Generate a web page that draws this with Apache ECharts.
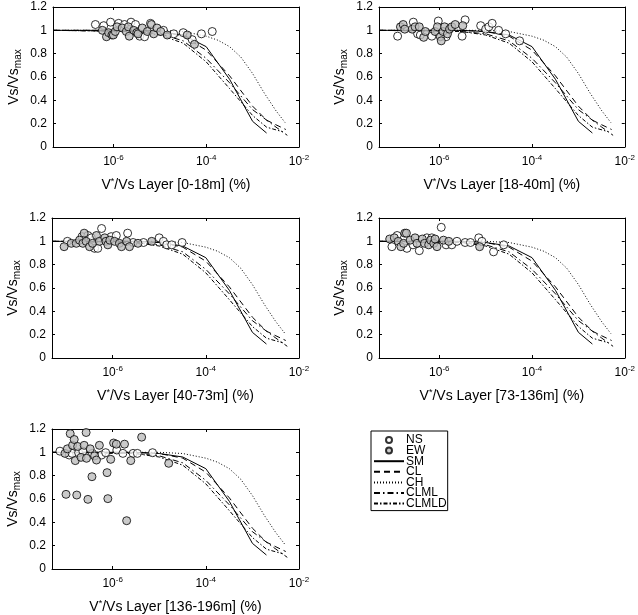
<!DOCTYPE html>
<html><head><meta charset="utf-8">
<script src="https://cdn.jsdelivr.net/npm/echarts@6/dist/echarts.min.js"></script>
<style>html,body{margin:0;padding:0;background:#fff}#c{width:638px;height:615px}</style>
</head><body><div id="c"></div>
<script>
// ---------- DATA ----------
const layerNames = ['[0-18m]', '[18-40m]', '[40-73m]', '[73-136m]', '[136-196m]'];
const xTickValues = [1e-6, 1e-4, 1e-2];

// Layer 0-18m
const ns_0_18 = [[4.1e-7,1.05],[6.2e-7,1.04],[8.7e-7,1.07],[1.3e-6,1.06],[1.74e-6,1.05],[2.4e-6,1.07],[3.0e-6,1.05],[3.7e-6,0.95],[4.7e-6,0.945],[6.3e-6,1.06],[1.2e-5,1.00],[2.0e-5,0.97],[3.2e-5,0.98],[5.0e-5,0.92],[7.9e-5,0.97],[1.35e-4,0.99]];
const ew_0_18 = [[5.8e-7,1.00],[7.1e-7,0.945],[7.9e-7,0.98],[9.3e-7,0.96],[1.0e-6,0.96],[1.1e-6,0.99],[1.2e-6,1.03],[1.55e-6,1.02],[1.9e-6,0.99],[2.1e-6,1.03],[2.2e-6,0.95],[2.75e-6,1.00],[3.2e-6,0.98],[3.4e-6,0.97],[4.2e-6,1.02],[5.4e-6,0.99],[6.6e-6,1.05],[7.4e-6,0.97],[8.7e-6,1.02],[1.05e-5,0.99],[1.45e-5,0.96],[3.9e-5,0.96],[5.6e-5,0.88]];
// Layer 18-40m
const ns_18_40 = [[1.26e-7,0.95],[2.75e-7,1.07],[3.4e-7,0.97],[3.9e-7,0.96],[6.9e-7,0.95],[9.5e-7,1.08],[1.4e-6,0.945],[3.1e-6,0.95],[3.6e-6,1.09],[7.8e-6,1.04],[1.0e-5,1.01],[1.17e-5,1.03],[1.38e-5,1.06],[1.9e-5,1.00],[2.7e-5,0.97],[5.4e-5,0.91]];
const ew_18_40 = [[1.45e-7,1.03],[1.66e-7,1.05],[1.8e-7,1.01],[2.6e-7,1.01],[3.0e-7,1.03],[3.7e-7,1.03],[4.6e-7,0.94],[5.0e-7,0.99],[8.1e-7,0.99],[9.1e-7,1.03],[1.05e-6,0.945],[1.1e-6,0.91],[1.2e-6,0.99],[1.3e-6,1.03],[1.5e-6,0.97],[1.66e-6,1.01],[1.86e-6,1.03],[2.2e-6,1.05],[3.2e-6,1.04]];
// Layer 40-73m
const ns_40_73 = [[1.07e-7,1.00],[2.2e-7,1.04],[2.95e-7,1.05],[3.5e-7,1.03],[4.1e-7,0.94],[4.8e-7,0.94],[5.8e-7,1.11],[9.3e-7,1.04],[1.2e-6,1.05],[2.1e-6,1.07],[2.75e-6,0.99],[4.6e-6,0.99],[1.0e-5,1.03],[1.23e-5,1.00],[1.45e-5,0.97],[1.86e-5,0.97],[3.1e-5,0.99]];
const ew_40_73 = [[9.1e-8,0.954],[1.3e-7,0.983],[1.66e-7,0.983],[1.95e-7,1.01],[2.3e-7,0.983],[2.45e-7,1.07],[2.7e-7,1.00],[3.2e-7,0.954],[3.7e-7,0.983],[4.5e-7,1.05],[5.2e-7,1.00],[6.8e-7,1.03],[7.2e-7,1.00],[7.9e-7,0.97],[8.7e-7,1.01],[1.1e-6,1.00],[1.4e-6,0.983],[1.55e-6,0.954],[2.0e-6,1.00],[2.3e-6,0.954],[3.5e-6,0.983],[6.9e-6,1.00]];
// Layer 73-136m
const ns_73_136 = [[9.5e-8,0.954],[1.23e-7,1.05],[2.0e-7,0.94],[2.7e-7,0.97],[3.7e-7,0.92],[5.4e-7,1.03],[6.9e-7,1.03],[1.1e-6,1.12],[1.4e-6,0.97],[1.86e-6,0.97],[2.4e-6,1.00],[3.6e-6,0.99],[4.7e-6,0.99],[7.1e-6,1.03],[8.3e-6,1.00],[1.48e-5,0.91],[2.45e-5,0.97]];
const ew_73_136 = [[8.5e-8,1.02],[1.07e-7,1.03],[1.3e-7,1.00],[1.48e-7,0.954],[1.7e-7,0.983],[1.8e-7,1.07],[1.95e-7,1.07],[2.35e-7,1.01],[3.0e-7,1.03],[3.3e-7,0.983],[4.3e-7,1.02],[4.8e-7,0.983],[5.9e-7,0.97],[6.5e-7,1.01],[7.6e-7,0.983],[8.1e-7,1.02],[8.9e-7,0.954],[1.23e-6,1.01],[1.6e-6,1.00],[7.4e-6,0.954]];
// Layer 136-196m
const ns_136_196 = [[7.4e-8,1.01],[1.17e-7,0.977],[1.35e-7,0.991],[1.86e-7,0.997],[2.3e-7,1.01],[3.7e-7,0.991],[5.8e-7,0.977],[7.1e-7,0.997],[1.23e-6,1.02],[1.66e-6,0.991],[2.75e-6,0.991],[3.4e-6,0.991],[7.2e-6,0.997]];
const ew_136_196 = [[9.5e-8,0.991],[1.0e-7,0.64],[1.07e-7,1.03],[1.23e-7,1.16],[1.38e-7,1.06],[1.5e-7,1.11],[1.58e-7,0.929],[1.7e-7,0.634],[1.78e-7,1.05],[2.1e-7,0.957],[2.45e-7,1.06],[2.7e-7,1.17],[2.75e-7,0.949],[2.95e-7,0.597],[3.3e-7,1.03],[3.6e-7,0.791],[4.1e-7,0.969],[4.5e-7,0.934],[5.2e-7,1.06],[7.6e-7,0.826],[7.9e-7,0.603],[9.1e-7,0.94],[1.05e-6,1.08],[1.2e-6,1.07],[1.8e-6,1.07],[2.0e-6,0.414],[2.45e-6,0.929],[4.2e-6,1.13],[1.6e-5,0.906]];

const nsData = [ns_0_18, ns_18_40, ns_40_73, ns_73_136, ns_136_196];
const ewData = [ew_0_18, ew_18_40, ew_40_73, ew_73_136, ew_136_196];

// Model curves (same in every panel)
const SM_x = [5e-8, 3e-6, 1e-5, 3.2e-5, 1e-4, 3.2e-4, 1e-3, 2e-3];
const SM_y = [1, 1, 0.99, 0.96, 0.86, 0.58, 0.22, 0.12];
const CL_x = [5e-8, 3e-6, 1e-5, 3.2e-5, 1e-4, 3.2e-4, 1e-3, 2e-3, 3.2e-3, 5.2e-3];
const CL_y = [1, 1, 0.99, 0.95, 0.83, 0.61, 0.35, 0.23, 0.19, 0.15];
const CH_x = [5e-8, 3e-6, 1e-5, 3.2e-5, 1e-4, 1.8e-4, 3.2e-4, 5.6e-4, 1e-3, 1.8e-3, 3.2e-3, 5e-3];
const CH_y = [1, 1, 1, 0.99, 0.95, 0.915, 0.86, 0.77, 0.63, 0.46, 0.31, 0.21];
const CLML_x = [5e-8, 3e-6, 1e-5, 3.2e-5, 1e-4, 3.2e-4, 1e-3, 3.2e-3, 5.6e-3];
const CLML_y = [1, 0.99, 0.97, 0.91, 0.76, 0.55, 0.32, 0.17, 0.10];
const CLMLD_x = [5e-8, 3e-6, 1e-5, 3.2e-5, 1e-4, 3.2e-4, 1e-3, 2e-3, 4.5e-3];
const CLMLD_y = [1, 0.99, 0.96, 0.89, 0.73, 0.50, 0.27, 0.17, 0.13];

// ---------- BUILD ----------
const FONT = 'Liberation Sans, Arial, sans-serif';
const grids = [
  {left: 53, top: 7, width: 246, height: 140},
  {left: 379, top: 7, width: 247, height: 140},
  {left: 52, top: 218, width: 247, height: 140},
  {left: 379, top: 218, width: 247, height: 140},
  {left: 52, top: 429, width: 247, height: 140}
];
const XMIN = 5e-8, XMAX = 1e-2;
const zip = (a, b) => a.map((v, i) => [v, b[i]]);
const curves = [
  {name: 'SM', x: SM_x, y: SM_y, type: 'solid'},
  {name: 'CL', x: CL_x, y: CL_y, type: [6, 4]},
  {name: 'CH', x: CH_x, y: CH_y, type: [1, 2]},
  {name: 'CLML', x: CLML_x, y: CLML_y, type: [6, 3, 1.5, 3]},
  {name: 'CLMLD', x: CLMLD_x, y: CLMLD_y, type: [4, 2, 1.5, 2]}
];

function xLabel(v) {
  const e = Math.round(Math.log10(v));
  return '{b|10}{s|' + e + '}';
}

const xAxes = [], yAxes = [], series = [];
grids.forEach((g, i) => {
  const common = {
    gridIndex: i, type: 'log', logBase: 10, min: XMIN, max: XMAX,
    axisLine: {show: true, onZero: false, lineStyle: {color: '#000', width: 1}},
    axisTick: {show: true, inside: true, length: 3, customValues: xTickValues, lineStyle: {color: '#000'}},
    splitLine: {show: false}, minorTick: {show: false}
  };
  xAxes.push(Object.assign({}, common, {
    position: 'bottom',
    axisLabel: {show: true, formatter: xLabel, margin: 7, customValues: xTickValues,
      rich: {b: {fontSize: 12, fontFamily: FONT, color: '#000'},
             s: {fontSize: 8, fontFamily: FONT, color: '#000', verticalAlign: 'bottom', padding: [0, 0, 7, 0]}}},
    name: 'V{sup|*}/Vs Layer ' + layerNames[i] + ' (%)',
    nameLocation: 'middle', nameGap: 30,
    nameTextStyle: {fontSize: 14, fontFamily: FONT, color: '#000',
      rich: {sup: {fontSize: 9, fontFamily: FONT, color: '#000', verticalAlign: 'bottom', padding: [0, 0, 7, 0]}}}
  }));
  xAxes.push(Object.assign({}, common, {position: 'top', axisLabel: {show: false, customValues: xTickValues}}));
  const yc = {
    gridIndex: i, type: 'value', min: 0, max: 1.2, interval: 0.2,
    axisLine: {show: true, onZero: false, lineStyle: {color: '#000', width: 1}},
    axisTick: {show: true, inside: true, length: 3, lineStyle: {color: '#000'}},
    splitLine: {show: false}
  };
  yAxes.push(Object.assign({}, yc, {
    position: 'left',
    axisLabel: {show: true, fontSize: 12, fontFamily: FONT, color: '#000', margin: 6},
    name: '{a|Vs/Vs}{sub|max}', nameLocation: 'middle', nameGap: 30, nameRotate: 90,
    nameTextStyle: {fontSize: 14, fontFamily: FONT, color: '#000',
      rich: {a: {fontSize: 14, fontFamily: FONT, color: '#000'},
             sub: {fontSize: 10, fontFamily: FONT, color: '#000', verticalAlign: 'top', padding: [7, 0, 0, 0]}}}
  }));
  yAxes.push(Object.assign({}, yc, {position: 'right', axisLabel: {show: false}}));

  curves.forEach(c => {
    series.push({
      name: c.name, type: 'line', xAxisIndex: 2 * i, yAxisIndex: 2 * i,
      data: zip(c.x, c.y), symbol: 'none', silent: true, animation: false,
      lineStyle: {color: '#000', width: 1, type: c.type}, itemStyle: {color: '#000', opacity: 0}, z: 2
    });
  });
  series.push({
    name: 'NS', type: 'scatter', xAxisIndex: 2 * i, yAxisIndex: 2 * i,
    data: nsData[i], symbol: 'circle', symbolSize: 8, animation: false,
    itemStyle: {color: '#ffffff', borderColor: '#000', borderWidth: 1}, z: 3
  });
  series.push({
    name: 'EW', type: 'scatter', xAxisIndex: 2 * i, yAxisIndex: 2 * i,
    data: ewData[i], symbol: 'circle', symbolSize: 8, animation: false,
    itemStyle: {color: '#bdbdbd', borderColor: '#000', borderWidth: 1}, z: 3
  });
});

const lineLegend = n => ({name: n, itemStyle: {opacity: 0}});
const chart = echarts.init(document.getElementById('c'), null, {renderer: 'canvas'});
chart.setOption({
  backgroundColor: '#fff',
  animation: false,
  grid: grids.map(g => Object.assign({containLabel: false}, g)),
  xAxis: xAxes,
  yAxis: yAxes,
  legend: {
    data: ['NS', 'EW', lineLegend('SM'), lineLegend('CL'), lineLegend('CH'), lineLegend('CLML'), lineLegend('CLMLD')],
    orient: 'vertical', left: 371, top: 431,
    itemWidth: 30, itemHeight: 6, itemGap: -1.4,
    padding: [3, 1, 1, 2],
    borderColor: '#000', borderWidth: 1,
    textStyle: {fontSize: 12, lineHeight: 11, fontFamily: FONT, color: '#000', padding: [0, 0, 0, -3]},
    selectedMode: false
  },
  series: series
});
</script></body></html>
